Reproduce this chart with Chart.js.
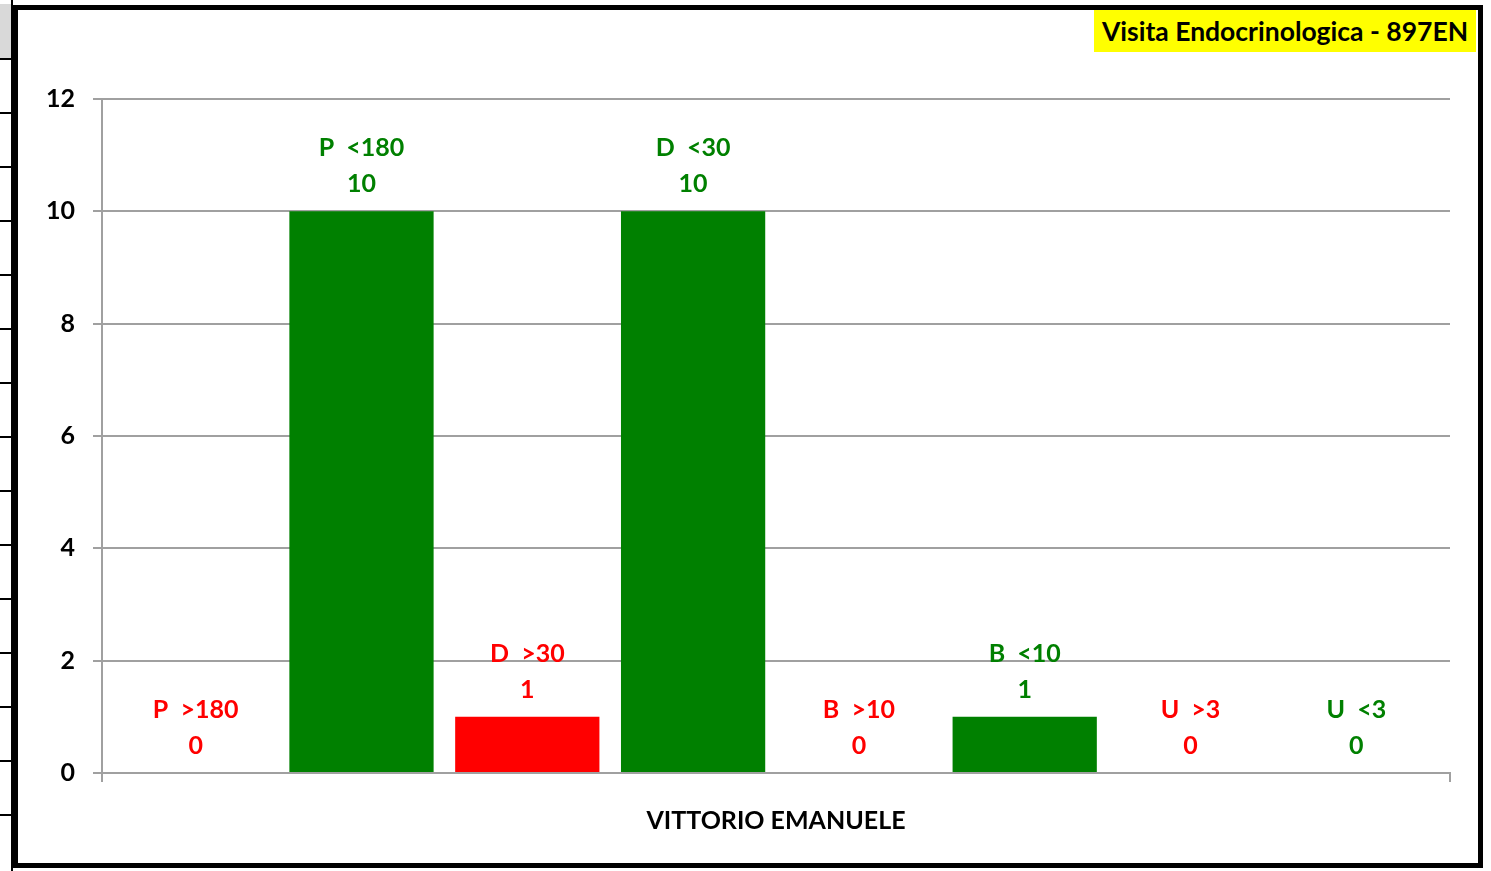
<!DOCTYPE html>
<html>
<head>
<meta charset="utf-8">
<script src="https://cdn.jsdelivr.net/npm/chart.js@4"></script>
<style>
  html, body { margin: 0; padding: 0; background: #fff; }
  body { width: 1491px; height: 871px; position: relative; overflow: hidden; font-family: Lato, "Open Sans", sans-serif; }
  #wrap { position: absolute; left: 0; top: 0; width: 1491px; height: 871px; }
  #frame { position: absolute; left: 13px; top: 5px; width: 1460px; height: 853px; border: 5px solid #000; pointer-events: none; }
  #title { position: absolute; left: 1094px; top: 10px; width: 382px; height: 42px; background: #ffff00;
           font: bold 26.5px Lato, sans-serif; color: #000; line-height: 42px; text-align: center; }
  #strip { position: absolute; left: 0; top: 0; width: 11px; height: 871px; border-right: 2px solid #000; }
  #strip .cell { position: absolute; left: 0; width: 11px; border-bottom: 2px solid #000; }
</style>
</head>
<body>
<div id="strip"></div>
<div id="wrap"><canvas id="chart" width="1491" height="871"></canvas></div>
<div id="frame"></div>
<div id="title">Visita Endocrinologica - 897EN</div>
<script>
// data
const categories = ["VITTORIO EMANUELE"];
const seriesNames = ["P  >180", "P  <180", "D  >30", "D  <30", "B  >10", "B  <10", "U  >3", "U  <3"];
const seriesValues = [0, 10, 1, 10, 0, 1, 0, 0];
const seriesColors = ["#ff0000", "#008000", "#ff0000", "#008000", "#ff0000", "#008000", "#ff0000", "#008000"];
const yTicks = [0, 2, 4, 6, 8, 10, 12];

// left spreadsheet strip
const strip = document.getElementById("strip");
for (let i = 0; i < 16; i++) {
  const c = document.createElement("div");
  c.className = "cell";
  c.style.top = (i === 0 ? 4 : 58 + (i - 1) * 54 - 52) + "px";
  c.style.height = (i === 0 ? 54 : 52) + "px";
  if (i === 0) c.style.background = "#d9d9d9";
  strip.appendChild(c);
}

// two-line labels over bars
const barLabels = {
  id: "barLabels",
  afterDatasetsDraw(chart) {
    const ctx = chart.ctx;
    ctx.save();
    ctx.font = "bold 25px Lato, sans-serif";
    ctx.textAlign = "center";
    ctx.textBaseline = "middle";
    chart.data.datasets.forEach((ds, i) => {
      const bar = chart.getDatasetMeta(i).data[0];
      ctx.fillStyle = ds.backgroundColor;
      ctx.fillText(ds.label, bar.x, bar.y - 63);
      ctx.fillText(String(ds.data[0]), bar.x, bar.y - 27);
    });
    ctx.restore();
  }
};

const datasets = seriesNames.map((name, i) => ({
  label: name,
  data: [seriesValues[i]],
  backgroundColor: seriesColors[i],
  barPercentage: 0.87,
  categoryPercentage: 0.984
}));

chart = new Chart(document.getElementById("chart"), {
  type: "bar",
  data: { labels: categories, datasets },
  plugins: [barLabels],
  options: {
    responsive: false,
    animation: false,
    layout: { padding: { left: 0, top: 99, right: 41, bottom: 0 } },
    plugins: { legend: { display: false }, tooltip: { enabled: false } },
    scales: {
      x: {
        grid: { display: true, drawOnChartArea: false, offset: true, color: "#a0a0a0", tickLength: 9, lineWidth: 2 },
        border: { color: "#a0a0a0", width: 2 },
        ticks: { color: "#000", font: { family: "Lato", size: 25, weight: "bold" }, padding: 24 },
        afterFit(scale) { scale.height = 871 - 773; }
      },
      y: {
        min: 0,
        max: 12,
        afterBuildTicks(scale) { scale.ticks = yTicks.map(v => ({ value: v })); },
        grid: { color: "#a0a0a0", tickLength: 9, lineWidth: 2 },
        border: { color: "#a0a0a0", width: 2 },
        ticks: { color: "#000", font: { family: "Lato", size: 25, weight: "bold" }, padding: 18 },
        afterFit(scale) { scale.width = 102; }
      }
    }
  }
});
</script>
</body>
</html>
